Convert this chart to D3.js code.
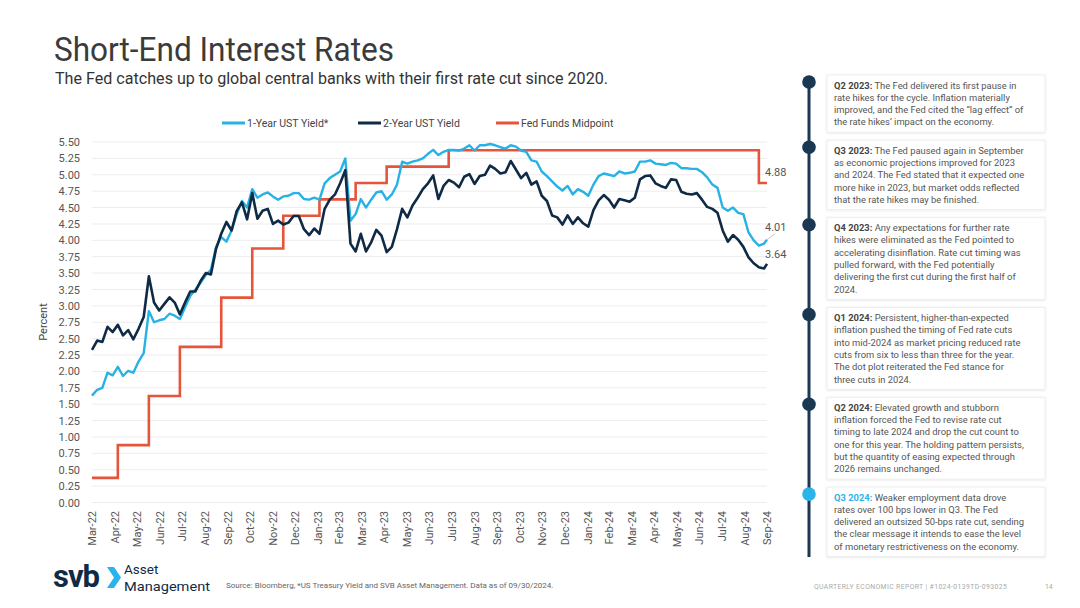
<!DOCTYPE html>
<html>
<head>
<meta charset="utf-8">
<script src="https://cdn.jsdelivr.net/npm/d3@7"></script>
<style>
  body { margin: 0; background: #fff; }
  svg { font-family: Roboto, "Noto Sans", sans-serif; }
</style>
</head>
<body>
<svg id="chart" width="1080" height="608"></svg>
<script>
// weekly closes (Thursdays) starting 2022-03-31, last value is the 2024-09-30 print
var weekStart = new Date(2022, 2, 31);
var lastDate = new Date(2024, 8, 30);

var oneYear = [
  1.63, 1.72, 1.75, 1.98, 1.94, 2.07, 1.93, 2.01, 1.98, 2.15,
  2.28, 2.92, 2.75, 2.78, 2.80, 2.88, 2.85, 2.80, 2.98, 3.15,
  3.25, 3.35, 3.47, 3.55, 3.90, 4.05, 3.98, 4.15, 4.40, 4.60,
  4.50, 4.78, 4.65, 4.70, 4.73, 4.67, 4.62, 4.67, 4.68, 4.72,
  4.72, 4.63, 4.62, 4.65, 4.62, 4.87, 4.95, 5.00, 5.05, 5.25,
  4.30, 4.40, 4.63, 4.50, 4.62, 4.73, 4.75, 4.62, 4.70, 4.85,
  5.20, 5.17, 5.20, 5.22, 5.25, 5.32, 5.38, 5.30, 5.35, 5.38,
  5.38, 5.37, 5.40, 5.45, 5.37, 5.45, 5.45, 5.47, 5.45, 5.42,
  5.40, 5.45, 5.43, 5.37, 5.35, 5.22, 5.20, 5.05, 4.98, 4.90,
  4.82, 4.76, 4.83, 4.70, 4.78, 4.74, 4.68, 4.85, 4.98, 5.02,
  5.00, 4.98, 5.05, 5.02, 5.03, 5.05, 5.20, 5.20, 5.22, 5.17,
  5.16, 5.15, 5.18, 5.17, 5.10, 5.10, 5.09, 5.09, 5.04, 4.96,
  4.85, 4.80, 4.50, 4.45, 4.50, 4.42, 4.40, 4.12, 4.00, 3.92,
  3.95, 4.01
];

var twoYear = [
  2.33, 2.47, 2.45, 2.68, 2.60, 2.71, 2.55, 2.63, 2.49, 2.65,
  2.83, 3.45, 3.05, 2.93, 3.03, 3.13, 3.05, 2.87, 3.05, 3.22,
  3.22, 3.38, 3.50, 3.48, 3.87, 4.10, 4.28, 4.15, 4.45, 4.58,
  4.32, 4.72, 4.33, 4.45, 4.48, 4.25, 4.30, 4.24, 4.27, 4.37,
  4.37, 4.17, 4.08, 4.18, 4.10, 4.48, 4.62, 4.70, 4.87, 5.07,
  3.95, 3.83, 4.10, 3.83, 3.97, 4.16, 4.07, 3.82, 3.90, 4.17,
  4.48, 4.35, 4.53, 4.65, 4.78, 4.87, 4.99, 4.63, 4.83, 4.92,
  4.88, 4.81, 4.97, 5.01, 4.86, 4.98, 5.00, 5.14, 5.09, 5.02,
  5.04, 5.21, 5.08, 4.95, 5.03, 4.85, 4.90, 4.68, 4.60, 4.38,
  4.35, 4.24, 4.38, 4.25, 4.35, 4.26, 4.21, 4.46, 4.61, 4.69,
  4.62, 4.50, 4.63, 4.61, 4.59, 4.65, 4.93, 4.98, 4.99, 4.87,
  4.83, 4.80, 4.93, 4.92, 4.74, 4.71, 4.70, 4.72, 4.62, 4.51,
  4.48, 4.42, 4.15, 3.98, 4.08, 4.01, 3.90, 3.74, 3.65, 3.59,
  3.57, 3.64
];

// fed funds target range midpoint, effective dates
var fedDates = ["2022-03-31", "2022-05-05", "2022-06-16", "2022-07-28", "2022-09-22",
  "2022-11-03", "2022-12-15", "2023-02-02", "2023-03-23", "2023-05-04",
  "2023-07-27", "2024-09-19", "2024-09-30"];
var fedMid = [0.375, 0.875, 1.625, 2.375, 3.125, 3.875, 4.375, 4.625, 4.875, 5.125, 5.375, 4.875, 4.875];

var yTicks = [0, 0.25, 0.5, 0.75, 1, 1.25, 1.5, 1.75, 2, 2.25, 2.5, 2.75, 3, 3.25, 3.5, 3.75,
  4, 4.25, 4.5, 4.75, 5, 5.25, 5.5];

var seriesNames = ["1-Year UST Yield*", "2-Year UST Yield", "Fed Funds Midpoint"];
var seriesColors = ["#27b2e6", "#0f2a45", "#e5553b"];

var noteHeads = ["Q2 2023:", "Q3 2023:", "Q4 2023:", "Q1 2024:", "Q2 2024:", "Q3 2024:"];
var noteLines = [
  [" The Fed delivered its first pause in", "rate hikes for the cycle. Inflation materially",
   "improved, and the Fed cited the \u201clag effect\u201d of", "the rate hikes\u2019 impact on the economy."],
  [" The Fed paused again in September", "as economic projections improved for 2023",
   "and 2024. The Fed stated that it expected one", "more hike in 2023, but market odds reflected",
   "that the rate hikes may be finished."],
  [" Any expectations for further rate", "hikes were eliminated as the Fed pointed to",
   "accelerating disinflation. Rate cut timing was", "pulled forward, with the Fed potentially",
   "delivering the first cut during the first half of", "2024."],
  [" Persistent, higher-than-expected", "inflation pushed the timing of Fed rate cuts",
   "into mid-2024 as market pricing reduced rate", "cuts from six to less than three for the year.",
   "The dot plot reiterated the Fed stance for", "three cuts in 2024."],
  [" Elevated growth and stubborn", "inflation forced the Fed to revise rate cut",
   "timing to late 2024 and drop the cut count to", "one for this year. The holding pattern persists,",
   "but the quantity of easing expected through", "2026 remains unchanged."],
  [" Weaker employment data drove", "rates over 100 bps lower in Q3. The Fed",
   "delivered an outsized 50-bps rate cut, sending", "the clear message it intends to ease the level",
   "of monetary restrictiveness on the economy."]
];

var svg = d3.select("#chart");

// build the series
var weekDates = oneYear.map(function(d, i) {
  return i < oneYear.length - 1 ? d3.timeDay.offset(weekStart, 7 * i) : lastDate;
});
var one = oneYear.map(function(v, i) { return { date: weekDates[i], value: v }; });
var two = twoYear.map(function(v, i) { return { date: weekDates[i], value: v }; });
var fed = fedMid.map(function(v, i) { return { date: d3.timeParse("%Y-%m-%d")(fedDates[i]), value: v }; });

var x = d3.scaleTime().domain([weekStart, lastDate]).range([92, 767]);
var y = d3.scaleLinear().domain([0, 5.5]).range([502.5, 142]);

// titles
svg.append("text").attr("x", 54).attr("y", 61)
  .attr("font-size", 33).attr("fill", "#3b3b3b")
  .attr("textLength", 340).attr("lengthAdjust", "spacingAndGlyphs")
  .text("Short-End Interest Rates");
svg.append("text").attr("x", 55).attr("y", 84)
  .attr("font-size", 16.5).attr("fill", "#333")
  .attr("textLength", 553).attr("lengthAdjust", "spacingAndGlyphs")
  .text("The Fed catches up to global central banks with their first rate cut since 2020.");

// gridlines
svg.append("g").selectAll("line").data(yTicks).enter().append("line")
  .attr("x1", 92).attr("x2", 767)
  .attr("y1", function(d) { return y(d); }).attr("y2", function(d) { return y(d); })
  .attr("stroke", "#ededed").attr("stroke-width", 1);

// y axis
var yAxis = svg.append("g").attr("transform", "translate(86,0)")
  .call(d3.axisLeft(y).tickValues(yTicks).tickSize(0).tickPadding(6).tickFormat(d3.format(".2f")));
yAxis.select(".domain").remove();
yAxis.selectAll("text").attr("font-size", 11).attr("fill", "#555").attr("font-family", "Roboto");

svg.append("text")
  .attr("transform", "translate(47,322) rotate(-90)")
  .attr("text-anchor", "middle").attr("font-size", 11).attr("fill", "#444")
  .text("Percent");

// x axis: month labels sit on each month end
var monthEnds = d3.timeMonth.range(new Date(2022, 3, 1), new Date(2024, 9, 2))
  .map(function(d) { return d3.timeDay.offset(d, -1); });
var xAxis = svg.append("g").attr("transform", "translate(0,505)")
  .call(d3.axisBottom(x).tickValues(monthEnds).tickSize(0).tickPadding(0)
    .tickFormat(d3.timeFormat("%b-%y")));
xAxis.select(".domain").remove();
xAxis.selectAll("text")
  .attr("font-size", 11).attr("fill", "#555").attr("font-family", "Roboto")
  .attr("text-anchor", "end").attr("dy", "0.35em")
  .attr("transform", "translate(0,6) rotate(-90)")
  .attr("x", 0).attr("y", 0);

// lines
var line = d3.line().x(function(d) { return x(d.date); }).y(function(d) { return y(d.value); });
var step = d3.line().curve(d3.curveStepAfter)
  .x(function(d) { return x(d.date); }).y(function(d) { return y(d.value); });

svg.append("path").datum(fed).attr("d", step)
  .attr("fill", "none").attr("stroke", seriesColors[2]).attr("stroke-width", 2.6);
svg.append("path").datum(one).attr("d", line)
  .attr("fill", "none").attr("stroke", seriesColors[0]).attr("stroke-width", 2.4)
  .attr("stroke-linejoin", "round");
svg.append("path").datum(two).attr("d", line)
  .attr("fill", "none").attr("stroke", seriesColors[1]).attr("stroke-width", 2.6)
  .attr("stroke-linejoin", "round");

// end labels
var lastOne = one[one.length - 1], lastTwo = two[two.length - 1], lastFed = fed[fed.length - 1];
svg.append("text").attr("x", x(lastFed.date) - 2).attr("y", y(lastFed.value) - 7)
  .attr("font-size", 11).attr("fill", "#555").text(d3.format(".2f")(lastFed.value));
svg.append("line")
  .attr("x1", x(lastOne.date)).attr("y1", y(lastOne.value))
  .attr("x2", x(lastOne.date) + 8).attr("y2", y(lastOne.value) - 6)
  .attr("stroke", "#bbb").attr("stroke-width", 0.8);
svg.append("text").attr("x", x(lastOne.date) - 2).attr("y", y(lastOne.value) - 9)
  .attr("font-size", 11).attr("fill", "#555").text(d3.format(".2f")(lastOne.value));
svg.append("text").attr("x", x(lastTwo.date) - 2).attr("y", y(lastTwo.value) - 6)
  .attr("font-size", 11).attr("fill", "#555").text(d3.format(".2f")(lastTwo.value));

// legend
var legendX = [222, 358, 496];
var legend = svg.append("g").selectAll("g").data(seriesNames).enter().append("g")
  .attr("transform", function(d, i) { return "translate(" + legendX[i] + ",123)"; });
legend.append("line").attr("x1", 0).attr("x2", 23)
  .attr("stroke", function(d, i) { return seriesColors[i]; }).attr("stroke-width", 3);
legend.append("text").attr("x", 25).attr("dy", "0.35em")
  .attr("font-size", 10.5).attr("fill", "#444").text(function(d) { return d; });

// timeline panel on the right
var defs = svg.append("defs");
var shadow = defs.append("filter").attr("id", "soft").attr("x", "-5%").attr("y", "-5%")
  .attr("width", "110%").attr("height", "115%");
shadow.append("feDropShadow").attr("dx", 0).attr("dy", 0.5).attr("stdDeviation", 1)
  .attr("flood-color", "#000").attr("flood-opacity", 0.12);

var lineH = 12.3, boxTop = 75, tops = [];
noteLines.forEach(function(lines) {
  tops.push(boxTop);
  boxTop += lines.length * lineH + 8 + 8;
});

svg.append("line").attr("x1", 809).attr("x2", 809)
  .attr("y1", tops[0] + 7).attr("y2", 557)
  .attr("stroke", "#1b3853").attr("stroke-width", 3);

var notes = svg.append("g").selectAll("g").data(noteLines).enter().append("g")
  .attr("transform", function(d, i) { return "translate(0," + tops[i] + ")"; });
notes.append("rect").attr("x", 827).attr("y", 0).attr("width", 218)
  .attr("height", function(d) { return d.length * lineH + 8; })
  .attr("fill", "#fff").attr("stroke", "#ececec").attr("stroke-width", 0.8)
  .attr("filter", "url(#soft)");
notes.append("circle").attr("cx", 809).attr("cy", 7).attr("r", 6.8)
  .attr("fill", function(d, i) { return i === noteLines.length - 1 ? "#2bb4ea" : "#1b3853"; });
notes.each(function(lines, i) {
  var t = d3.select(this).append("text").attr("font-size", 9.4).attr("fill", "#555");
  lines.forEach(function(s, k) {
    var row = t.append("tspan").attr("x", 834).attr("y", 13.5 + k * lineH);
    if (k === 0) {
      row.append("tspan").attr("font-weight", 700)
        .attr("fill", i === noteLines.length - 1 ? "#2bb4ea" : "#444").text(noteHeads[i]);
      row.append("tspan").text(s);
    } else {
      row.text(s);
    }
  });
});

// footer
var logo = svg.append("g");
logo.append("text").attr("x", 53).attr("y", 587).attr("font-size", 31).attr("font-weight", 700)
  .attr("fill", "#0f2a45").attr("letter-spacing", -1).text("svb");
logo.append("path").attr("d", "M107,567 L114,567 L121,577.5 L114,588 L107,588 L114,577.5 Z")
  .attr("fill", "#2bb4ea");
logo.append("text").attr("x", 124).attr("y", 574).attr("font-size", 13.5)
  .attr("fill", "#0f2a45").text("Asset");
logo.append("text").attr("x", 124).attr("y", 590.5).attr("font-size", 13.5)
  .attr("fill", "#0f2a45").attr("textLength", 86).attr("lengthAdjust", "spacingAndGlyphs")
  .text("Management");

svg.append("text").attr("x", 226).attr("y", 588).attr("font-size", 8).attr("fill", "#666")
  .text("Source: Bloomberg, *US Treasury Yield and SVB Asset Management. Data as of 09/30/2024.");
svg.append("text").attr("x", 814).attr("y", 589).attr("font-size", 6.8).attr("fill", "#aaa")
  .attr("letter-spacing", 0.4)
  .text("QUARTERLY ECONOMIC REPORT | #1024-0139TD-093025");
svg.append("text").attr("x", 1045).attr("y", 589).attr("font-size", 6.8).attr("fill", "#aaa")
  .text("14");
</script>
</body>
</html>
